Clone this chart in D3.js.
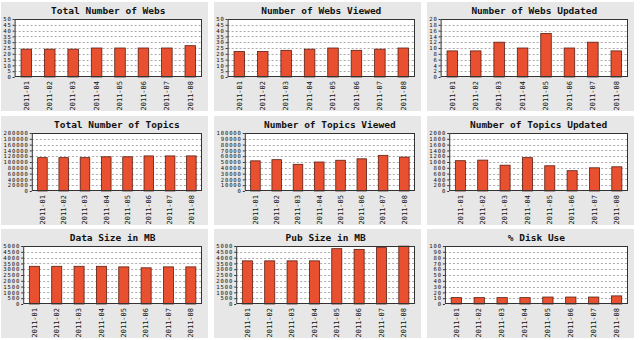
<!DOCTYPE html>
<html><head><meta charset="utf-8">
<script src="https://cdn.jsdelivr.net/npm/d3@7"></script>
<style>html,body{margin:0;padding:0;background:#fff;}svg{display:block;}</style>
</head><body>
<svg id="c" width="640" height="340"></svg>
<script>
const months = ["2011-01","2011-02","2011-03","2011-04","2011-05","2011-06","2011-07","2011-08"];
const titles = ["Total Number of Webs","Number of Webs Viewed","Number of Webs Updated",
  "Total Number of Topics","Number of Topics Viewed","Number of Topics Updated",
  "Data Size in MB","Pub Size in MB","% Disk Use"];
const totalWebs     = [24, 24, 24, 25, 25, 25, 25, 27];
const websViewed    = [22, 22, 23, 24, 25, 23, 24, 25];
const websUpdated   = [9, 9, 12, 10, 15, 10, 12, 9];
const totalTopics   = [115000, 115000, 115000, 118000, 118000, 121000, 121000, 121000];
const topicsViewed  = [52000, 54000, 46000, 50000, 53000, 55500, 61500, 58500];
const topicsUpdated = [1045, 1065, 890, 1150, 870, 700, 800, 835];
const dataSize      = [3250, 3250, 3250, 3250, 3200, 3120, 3200, 3200];
const pubSize       = [3720, 3720, 3720, 3720, 4770, 4710, 4860, 4990];
const diskUse       = [11, 11, 11, 11, 12, 12, 12, 14];
const yMax  = [50, 50, 20, 200000, 100000, 2000, 5000, 5000, 100];
const yStep = [5, 5, 2, 20000, 10000, 200, 500, 500, 10];
const series = [totalWebs, websViewed, websUpdated, totalTopics, topicsViewed, topicsUpdated, dataSize, pubSize, diskUse];

const svg = d3.select("#c");
const colX = [1, 214, 427], rowY = [2, 116, 229];
const PW = 207, PH = 109;
const mono = "'DejaVu Sans Mono', monospace";

series.forEach((vals, i) => {
  const px = colX[i % 3], py = rowY[Math.floor(i / 3)];
  const g = svg.append("g").attr("transform", `translate(${px},${py})`);
  g.append("rect").attr("width", PW).attr("height", PH).attr("fill", "#e7e7e7");
  const ticks = d3.range(0, yMax[i] + yStep[i] / 2, yStep[i]);
  const nChars = String(yMax[i]).length;
  const left = 5 + nChars * 4.3, right = PW - 6, top = 17, bottom = 75;
  const x = d3.scaleBand().domain(months).range([left, right]).padding(0);
  const y = d3.scaleLinear().domain([0, yMax[i]]).range([bottom, top]);
  g.append("rect").attr("x", left).attr("y", top).attr("width", right - left).attr("height", bottom - top).attr("fill", "#fff");
  // grid
  g.append("g").selectAll("line").data(ticks.slice(1, -1)).join("line")
    .attr("x1", left).attr("x2", right).attr("y1", d => Math.round(y(d)) + 0.5).attr("y2", d => Math.round(y(d)) + 0.5)
    .attr("stroke", "#aaa").attr("stroke-width", 1).attr("stroke-dasharray", "2,2");
  // bars
  const bw = x.bandwidth() * 0.45;
  g.append("g").selectAll("rect").data(vals).join("rect")
    .attr("x", (d, j) => x(months[j]) + (x.bandwidth() - bw) / 2)
    .attr("y", d => y(d)).attr("width", bw).attr("height", d => bottom - y(d))
    .attr("fill", "#e8502f").attr("stroke", "#5a1f14").attr("stroke-width", 0.8);
  // frame
  g.append("rect").attr("x", left + 0.5).attr("y", top + 0.5).attr("width", right - left - 1).attr("height", bottom - top - 1)
    .attr("fill", "none").attr("stroke", "#333").attr("stroke-width", 1);
  // y axis
  const ya = d3.axisLeft(y).tickValues(ticks).tickSize(2).tickPadding(1).tickFormat(d3.format("d"));
  const yg = g.append("g").attr("transform", `translate(${left},0)`).call(ya);
  yg.select(".domain").remove();
  yg.selectAll("line").attr("stroke", "#333");
  yg.selectAll("text").attr("font-family", mono).attr("font-size", 5.6).attr("letter-spacing", 0.85).attr("fill", "#111");
  // x axis
  const xa = d3.axisBottom(x).tickSize(0).tickPadding(2);
  const xg = g.append("g").attr("transform", `translate(0,${bottom})`).call(xa);
  xg.select(".domain").remove();
  xg.selectAll("text").attr("font-family", mono).attr("font-size", 7).attr("fill", "#111")
    .attr("transform", "rotate(-90)").attr("text-anchor", "end")
    .attr("x", -4).attr("y", 0).attr("dy", "0.32em");
  // title
  g.append("text").attr("x", (left + right) / 2).attr("y", 12).attr("text-anchor", "middle")
    .attr("font-family", mono).attr("font-weight", "bold").attr("font-size", 9.5).attr("fill", "#111")
    .text(titles[i]);
});
</script>
</body></html>
